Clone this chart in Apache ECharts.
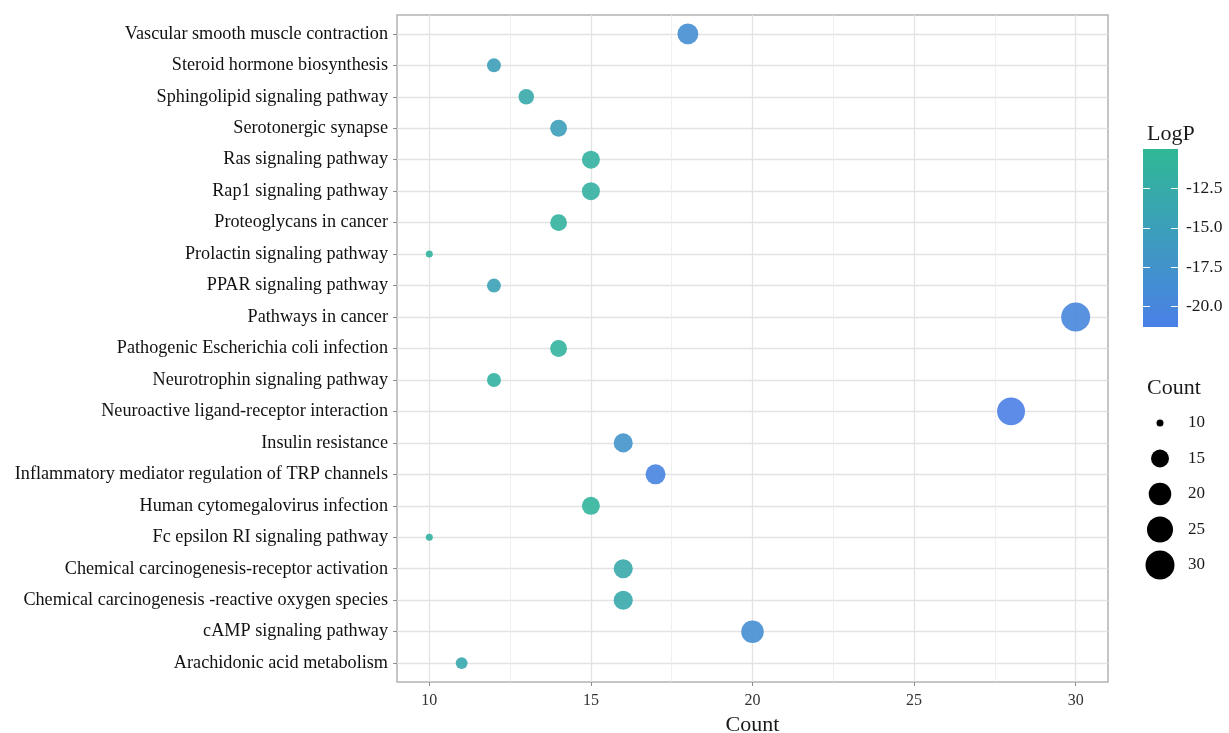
<!DOCTYPE html>
<html>
<head>
<meta charset="utf-8">
<script src="https://cdn.jsdelivr.net/npm/echarts@6/dist/echarts.min.js"></script>
<style>
  html, body { margin: 0; padding: 0; background: #fff; }
  #chart { width: 1229px; height: 733px; }
</style>
</head>
<body>
<div id="chart"></div>
<script>
// KEGG pathways, listed bottom to top
const pathways = [
  'Arachidonic acid metabolism',
  'cAMP signaling pathway',
  'Chemical carcinogenesis -reactive oxygen species',
  'Chemical carcinogenesis-receptor activation',
  'Fc epsilon RI signaling pathway',
  'Human cytomegalovirus infection',
  'Inflammatory mediator regulation of TRP channels',
  'Insulin resistance',
  'Neuroactive ligand-receptor interaction',
  'Neurotrophin signaling pathway',
  'Pathogenic Escherichia coli infection',
  'Pathways in cancer',
  'PPAR signaling pathway',
  'Prolactin signaling pathway',
  'Proteoglycans in cancer',
  'Rap1 signaling pathway',
  'Ras signaling pathway',
  'Serotonergic synapse',
  'Sphingolipid signaling pathway',
  'Steroid hormone biosynthesis',
  'Vascular smooth muscle contraction'
];
const counts = [11, 20, 16, 16, 10, 15, 17, 16, 28, 12, 14, 30, 12, 10, 14, 15, 15, 14, 13, 12, 18];
const logP = [-13.5, -18.5, -13.0, -13.0, -11.5, -10.8, -20.5, -17.5, -21.3, -11.5, -11.3, -19.8, -14.5, -11.0, -11.0, -11.8, -11.5, -15.0, -13.0, -15.0, -18.5];

const countTicks = [10, 15, 20, 25, 30];
const countMinorTicks = [12.5, 17.5, 22.5, 27.5];
const logPTicks = [-20, -17.5, -15, -12.5];
const sizeLegendValues = [10, 15, 20, 25, 30];

const countRange = [10, 30];
const logPRange = [-21.3, -10.0];
const colorLow = '#4a80e6';
const colorHigh = '#30b896';

// area-proportional point size: diameter grows with sqrt of the rescaled count
function dotSize(v) {
  const t = Math.max(0, (v - countRange[0]) / (countRange[1] - countRange[0]));
  return 7 + Math.sqrt(t) * 22;
}

const points = pathways.map((p, i) => [counts[i], i, logP[i]]);
const idx = pathways.map((p, i) => i);

const serif = '"Liberation Serif", "Times New Roman", serif';
const chart = echarts.init(document.getElementById('chart'), null, { renderer: 'canvas' });

chart.setOption({
  backgroundColor: '#ffffff',
  animation: false,
  textStyle: { fontFamily: serif },
  title: [
    { text: 'LogP', left: 1142, top: 118, textStyle: { fontFamily: serif, fontSize: 22, fontWeight: 'normal', color: '#1a1a1a' } },
    { text: 'Count', left: 1142, top: 372, textStyle: { fontFamily: serif, fontSize: 22, fontWeight: 'normal', color: '#1a1a1a' } }
  ],
  grid: [
    { left: 397, top: 15, width: 711, height: 667, outerBoundsMode: 'none', show: true, borderColor: '#b3b3b3', borderWidth: 1.5, backgroundColor: '#ffffff' },
    { left: 1143, top: 149, width: 35, height: 178, outerBoundsMode: 'none', show: true, borderWidth: 0,
      backgroundColor: new echarts.graphic.LinearGradient(0, 0, 0, 1, [
        { offset: 0, color: colorHigh }, { offset: 1, color: colorLow }
      ]) },
    { left: 1145, top: 423, width: 30, height: 142, outerBoundsMode: 'none' }
  ],
  visualMap: {
    show: false,
    type: 'continuous',
    seriesIndex: 0,
    dimension: 2,
    min: logPRange[0],
    max: logPRange[1],
    inRange: { color: [colorLow, colorHigh] }
  },
  xAxis: [
    {
      gridIndex: 0, type: 'value', min: 9, max: 31, position: 'bottom',
      name: 'Count', nameLocation: 'middle', nameGap: 29,
      nameTextStyle: { fontFamily: serif, fontSize: 22, color: '#1a1a1a' },
      axisLine: { show: false, onZero: false },
      axisTick: { show: true, length: 4, lineStyle: { color: '#8c8c8c' }, customValues: countTicks },
      axisLabel: { customValues: countTicks, margin: 11, fontFamily: serif, fontSize: 16, color: '#333333' },
      splitLine: { show: true, lineStyle: { color: '#e3e3e3', width: 1.3 } }
    },
    {
      gridIndex: 0, type: 'value', min: 9, max: 31, position: 'bottom',
      axisLine: { show: false, onZero: false },
      axisTick: { show: false, customValues: countMinorTicks },
      axisLabel: { show: false, customValues: countMinorTicks },
      splitLine: { show: true, lineStyle: { color: '#ececec', width: 0.8 } }
    },
    { gridIndex: 1, type: 'value', min: 0, max: 1, show: false },
    { gridIndex: 2, type: 'value', min: -1, max: 1, show: false }
  ],
  yAxis: [
    {
      gridIndex: 0, type: 'value', min: -0.6, max: 20.6,
      axisLine: { show: false, onZero: false },
      axisTick: { show: true, length: 4, lineStyle: { color: '#8c8c8c' }, customValues: idx },
      axisLabel: {
        customValues: idx, margin: 9, fontFamily: serif, fontSize: 18.2, color: '#111111',
        formatter: v => pathways[Math.round(v)]
      },
      splitLine: { show: true, lineStyle: { color: '#e3e3e3', width: 1.3 } }
    },
    {
      gridIndex: 1, type: 'value', min: logPRange[0], max: logPRange[1], position: 'right',
      axisLine: { show: false, onZero: false },
      axisTick: { show: true, inside: true, length: 7, lineStyle: { color: '#ffffff', width: 1 }, customValues: logPTicks },
      axisLabel: { customValues: logPTicks, margin: 8, fontFamily: serif, fontSize: 17.5, color: '#1a1a1a', formatter: v => v.toFixed(1) },
      splitLine: { show: false }
    },
    {
      gridIndex: 1, type: 'value', min: logPRange[0], max: logPRange[1], position: 'left',
      axisLine: { show: false, onZero: false },
      axisTick: { show: true, inside: true, length: 7, lineStyle: { color: '#ffffff', width: 1 }, customValues: logPTicks },
      axisLabel: { show: false, customValues: logPTicks },
      splitLine: { show: false }
    },
    {
      gridIndex: 2, type: 'category', data: sizeLegendValues.map(String), inverse: true, boundaryGap: false, position: 'right',
      axisLine: { show: false, onZero: false }, axisTick: { show: false },
      axisLabel: { margin: 13, fontFamily: serif, fontSize: 17, color: '#1a1a1a' },
      splitLine: { show: false }
    }
  ],
  series: [
    {
      type: 'scatter',
      xAxisIndex: 0, yAxisIndex: 0,
      data: points,
      symbolSize: d => dotSize(d[0]),
      itemStyle: { opacity: 0.9 },
      z: 5
    },
    {
      type: 'scatter',
      xAxisIndex: 3, yAxisIndex: 3,
      data: sizeLegendValues.map(v => [0, String(v), v]),
      symbolSize: d => dotSize(d[2]),
      itemStyle: { color: '#000000', opacity: 1 },
      silent: true
    }
  ]
});
</script>
</body>
</html>
